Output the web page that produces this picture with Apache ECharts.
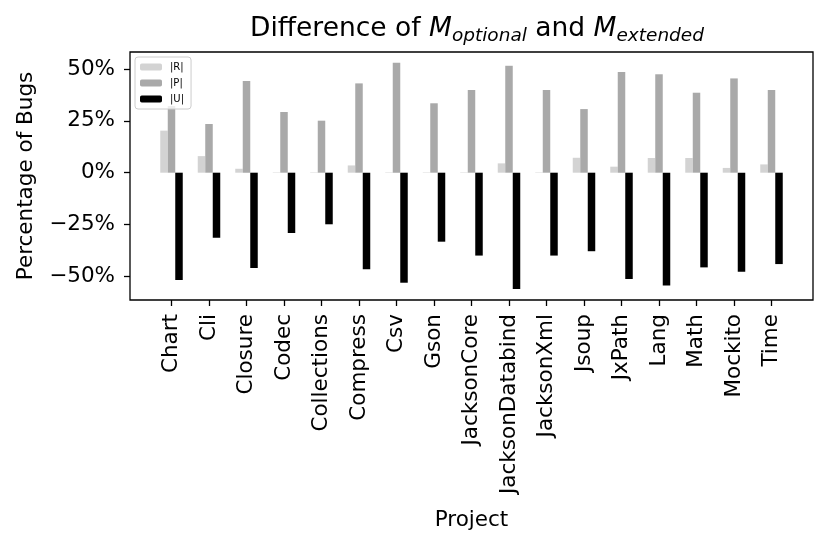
<!DOCTYPE html>
<html lang="en">
<head>
<meta charset="utf-8">
<style>
  html, body, #container {
    width: 830px;
    height: 549px;
    margin: 0;
    padding: 0;
    background: #fff;
  }
</style>
</head>
<body>
<div id="container"></div>
<script src="https://cdn.jsdelivr.net/npm/echarts@6/dist/echarts.min.js"></script>
<script>
// data (percent of bugs)
var projects = ['Chart', 'Cli', 'Closure', 'Codec', 'Collections', 'Compress', 'Csv', 'Gson',
  'JacksonCore', 'JacksonDatabind', 'JacksonXml', 'Jsoup', 'JxPath', 'Lang', 'Math', 'Mockito', 'Time'];
var valuesR = [20.3, 8.0, 1.9, 0.2, 0.2, 3.5, 0.2, 0.2, 0.2, 4.5, 0.2, 7.2, 2.9, 7.1, 7.1, 2.3, 4.0];
var valuesP = [32.2, 23.5, 44.3, 29.3, 25.1, 43.1, 53.1, 33.5, 39.9, 51.6, 39.9, 30.7, 48.6, 47.5, 38.6, 45.5, 39.9];
var valuesU = [-51.8, -31.4, -46.0, -29.1, -24.9, -46.6, -53.1, -33.3, -40.0, -56.1, -40.0, -37.9, -51.3, -54.5, -45.7, -47.8, -44.1];
var yTicks = [-50, -25, 0, 25, 50];

var dom = document.getElementById('container');
var myChart = echarts.init(dom, null, { renderer: 'canvas' });

var font = 'DejaVu Sans';
var yMin = -61.44, yMax = 58.25;
var fs = 21.5;

var option = {
  animation: false,
  textStyle: { fontFamily: font, color: '#000' },
  title: {
    left: 472,
    top: 8,
    textAlign: 'center',
    text: '{t|Difference of }{m|M}{s|optional}{t| and }{m|M}{s|extended}',
    textStyle: {
      fontWeight: 'normal',
      rich: {
        t: { fontFamily: font, fontSize: 26.5, fontWeight: 'normal', color: '#000', lineHeight: 32, verticalAlign: 'middle' },
        m: { fontFamily: font, fontSize: 26.5, fontWeight: 'normal', fontStyle: 'italic', color: '#000', lineHeight: 32, verticalAlign: 'middle' },
        s: { fontFamily: font, fontSize: 18.5, fontWeight: 'normal', fontStyle: 'italic', color: '#000', lineHeight: 18, padding: [15, 0, 0, 0], verticalAlign: 'middle' }
      }
    }
  },
  legend: {
    orient: 'vertical',
    left: 135,
    top: 57,
    itemWidth: 22,
    itemHeight: 7,
    itemGap: 4,
    padding: [4, 7, 4, 5],
    backgroundColor: 'rgba(255,255,255,0.8)',
    borderColor: '#cccccc',
    borderWidth: 1,
    borderRadius: 3,
    textStyle: { fontSize: 10, lineHeight: 12, color: '#000', padding: [0, 0, 0, 3] },
    data: ['|R|', '|P|', '|U|']
  },
  grid: [
    // bars: categories sit inside the frame with some margin on both sides
    { left: 152.75, right: 39.75, top: 52, bottom: 249 },
    // frame + y axis
    { left: 130, right: 17, top: 52, bottom: 249, show: true, borderColor: '#000', borderWidth: 1.3 }
  ],
  xAxis: [
    {
      gridIndex: 0,
      type: 'category',
      data: projects,
      name: 'Project',
      nameLocation: 'middle',
      nameGap: 209,
      nameTextStyle: { fontSize: fs, color: '#000' },
      axisLine: { show: false, onZero: false },
      axisTick: { show: true, alignWithLabel: true, length: 6, lineStyle: { color: '#000', width: 1.3 } },
      axisLabel: { rotate: 90, interval: 0, fontSize: fs, color: '#000', margin: 14 },
      splitLine: { show: false }
    },
    { gridIndex: 1, type: 'value', min: 0, max: 1, show: false }
  ],
  yAxis: [
    { gridIndex: 0, type: 'value', min: yMin, max: yMax, show: false },
    {
      gridIndex: 1,
      type: 'value',
      min: yMin,
      max: yMax,
      name: 'Percentage of Bugs',
      nameLocation: 'middle',
      nameGap: 93,
      nameTextStyle: { fontSize: fs, color: '#000' },
      axisLine: { show: false },
      axisTick: { show: true, length: 6, customValues: yTicks, lineStyle: { color: '#000', width: 1.3 } },
      axisLabel: {
        fontSize: fs,
        color: '#000',
        margin: 15,
        customValues: yTicks,
        formatter: function (v) { return String(v).replace('-', '\u2212') + '%'; }
      },
      splitLine: { show: false }
    }
  ],
  series: [
    { name: '|R|', type: 'bar', xAxisIndex: 0, yAxisIndex: 0, data: valuesR, itemStyle: { color: '#d3d3d3' }, barGap: '0%', barCategoryGap: '40%' },
    { name: '|P|', type: 'bar', xAxisIndex: 0, yAxisIndex: 0, data: valuesP, itemStyle: { color: '#a9a9a9' }, barGap: '0%', barCategoryGap: '40%' },
    { name: '|U|', type: 'bar', xAxisIndex: 0, yAxisIndex: 0, data: valuesU, itemStyle: { color: '#000000' }, barGap: '0%', barCategoryGap: '40%' }
  ]
};

myChart.setOption(option);
window.addEventListener('resize', myChart.resize);
</script>
</body>
</html>
